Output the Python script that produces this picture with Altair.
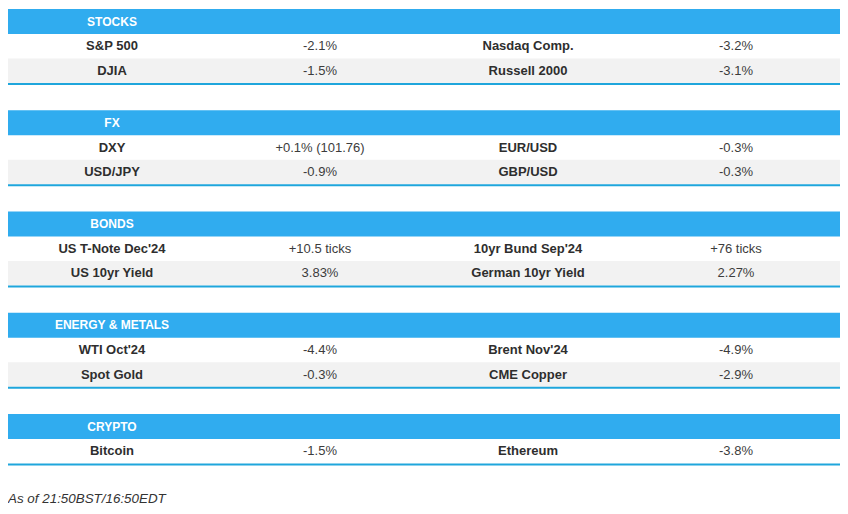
import altair as alt
import pandas as pd

# ---- data ----
sections = ["STOCKS", "FX", "BONDS", "ENERGY & METALS", "CRYPTO"]
left_names = [["S&P 500", "DJIA"], ["DXY", "USD/JPY"], ["US T-Note Dec'24", "US 10yr Yield"],
              ["WTI Oct'24", "Spot Gold"], ["Bitcoin"]]
left_values = [["-2.1%", "-1.5%"], ["+0.1% (101.76)", "-0.9%"], ["+10.5 ticks", "3.83%"],
               ["-4.4%", "-0.3%"], ["-1.5%"]]
right_names = [["Nasdaq Comp.", "Russell 2000"], ["EUR/USD", "GBP/USD"],
               ["10yr Bund Sep'24", "German 10yr Yield"], ["Brent Nov'24", "CME Copper"], ["Ethereum"]]
right_values = [["-3.2%", "-3.1%"], ["-0.3%", "-0.3%"], ["+76 ticks", "2.27%"],
                ["-4.9%", "-2.9%"], ["-3.8%"]]
footnote = "As of 21:50BST/16:50EDT"

# ---- layout ----
W, H = 832, 498
COL = W / 4
TOP0, STRIDE = 1.0, 101.25
HEAD_H, ROW_H, LINE_H = 25.0, 24.5, 2.0

rects, texts = [], []
for s, name in enumerate(sections):
    top = TOP0 + s * STRIDE
    rects.append(dict(x0=0, x1=W, y0=top, y1=top + HEAD_H, kind="header"))
    texts.append(dict(x=COL * 0.5, y=top + HEAD_H / 2, text=name, kind="header"))
    rows = list(zip(left_names[s], left_values[s], right_names[s], right_values[s]))
    for i, row in enumerate(rows):
        y0 = top + HEAD_H + i * ROW_H
        if i % 2 == 1:
            rects.append(dict(x0=0, x1=W, y0=y0, y1=y0 + ROW_H, kind="grey"))
        for c, t in enumerate(row):
            texts.append(dict(x=COL * (c + 0.5), y=y0 + ROW_H / 2, text=t,
                              kind="label" if c % 2 == 0 else "value"))
    yl = top + HEAD_H + len(rows) * ROW_H
    rects.append(dict(x0=0, x1=W, y0=yl, y1=yl + LINE_H, kind="line"))

rect_df = pd.DataFrame(rects)
text_df = pd.DataFrame(texts)
foot_df = pd.DataFrame([dict(x=0, y=491, text=footnote)])

xs = alt.Scale(domain=[0, W], nice=False, zero=False)
ys = alt.Scale(domain=[0, H], nice=False, zero=False, reverse=True)

bg = alt.Chart(rect_df).mark_rect().encode(
    x=alt.X("x0:Q", scale=xs, axis=None),
    x2="x1:Q",
    y=alt.Y("y0:Q", scale=ys, axis=None),
    y2="y1:Q",
    color=alt.Color("kind:N", legend=None,
                    scale=alt.Scale(domain=["header", "grey", "line"],
                                    range=["#30acef", "#f2f2f2", "#1fa6dc"])),
)

def text_layer(kind, **kw):
    return alt.Chart(text_df).transform_filter(alt.datum.kind == kind).mark_text(
        font="Liberation Sans", align="center", baseline="middle", **kw
    ).encode(
        x=alt.X("x:Q", scale=xs, axis=None),
        y=alt.Y("y:Q", scale=ys, axis=None),
        text="text:N",
    )

head_t = text_layer("header", fontSize=12, fontWeight="bold", color="#ffffff")
label_t = text_layer("label", fontSize=13, fontWeight="bold", color="#2e2e2e")
value_t = text_layer("value", fontSize=13, color="#3c3c3c")

foot_t = alt.Chart(foot_df).mark_text(
    font="Liberation Sans", fontSize=13.4, fontStyle="italic", align="left",
    baseline="middle", color="#333333"
).encode(
    x=alt.X("x:Q", scale=xs, axis=None),
    y=alt.Y("y:Q", scale=ys, axis=None),
    text="text:N",
)

chart = alt.layer(bg, head_t, label_t, value_t, foot_t).properties(
    width=W, height=H, padding=0, autosize=alt.AutoSizeParams(type="none")
).configure_view(stroke=None)

chart.save("out.html", embed_options={"renderer": "svg", "actions": False})
